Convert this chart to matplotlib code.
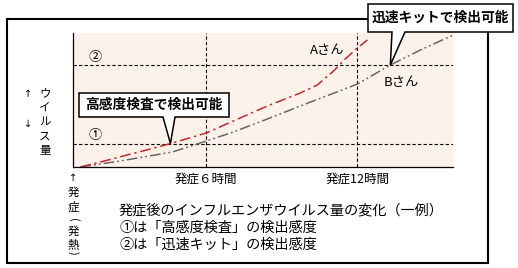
import numpy as np
import matplotlib
matplotlib.use("Agg")
import matplotlib.pyplot as plt
from matplotlib.patches import Polygon, Rectangle

plt.rcParams['font.family'] = ['Noto Sans CJK JP', 'DejaVu Sans']

# hours after onset / virus amount (arbitrary units)
a_hours = [0.99, 1.79, 2.86, 3.77, 4.65, 6.00, 7.07, 8.42, 9.73, 10.41, 11.05, 11.52, 12.00, 12.40]
a_virus = [0.0, 3.7, 9.0, 13.4, 17.9, 25.4, 34.3, 45.5, 55.2, 61.2, 71.6, 80.6, 88.8, 94.8]
b_hours = [0.99, 2.58, 4.65, 6.00, 7.07, 8.42, 9.73, 12.00, 13.31, 14.50, 15.81]
b_virus = [0.0, 4.5, 11.2, 19.4, 26.1, 35.8, 45.5, 61.9, 76.1, 87.3, 98.5]

level1 = 17.5   # 高感度検査
level2 = 76.1   # 迅速キット
hour_marks = [6, 12]
hour_labels = ["発症６時間", "発症12時間"]
caption = ["発症後のインフルエンザウイルス量の変化（一例）",
           "①は「高感度検査」の検出感度",
           "②は「迅速キット」の検出感度"]

W, H = 518, 268
fig = plt.figure(figsize=(W / 100, H / 100), dpi=100)
fig.patch.set_facecolor("white")


def fx(px):
    return px / W


def fy(py):
    return 1 - py / H


# outer frame
fig.add_artist(Rectangle((fx(7), fy(263)), fx(488) - fx(7), fy(19) - fy(263),
                         transform=fig.transFigure, fill=False, ec="black", lw=1.5, zorder=1))

ax = fig.add_axes([fx(73), fy(167), fx(453) - fx(73), fy(33) - fy(167)])
ax.set_facecolor("#fdf2ea")
ax.set_xlim(0.7, 15.8)
ax.set_ylim(0, 100)
ax.set_xticks([])
ax.set_yticks([])
for s in ["top", "right"]:
    ax.spines[s].set_visible(False)
for s in ["left", "bottom"]:
    ax.spines[s].set_linewidth(0.9)

for h in hour_marks:
    ax.axvline(h, color="black", lw=0.8, ls=(0, (3, 2)))
for lv in [level1, level2]:
    ax.axhline(lv, color="black", lw=0.8, ls=(0, (3, 2)))

ax.plot(b_hours, b_virus, color="#666666", lw=1.1, ls=(0, (7, 2, 1.2, 2, 1.2, 2)))
ax.plot(a_hours, a_virus, color="#c0282d", lw=1.1, ls=(0, (7, 2.5, 1.5, 2.5)))

ax.text(1.6, level1 + 1, "①", fontsize=9.5, ha="center", va="bottom")
ax.text(1.6, level2 + 1, "②", fontsize=9.5, ha="center", va="bottom")
ax.text(10.8, 87.3, "Aさん", fontsize=9.5, ha="center", va="center")
ax.text(13.75, 63.4, "Bさん", fontsize=9.5, ha="center", va="center")

xt = ax.get_xaxis_transform()
for h, lab in zip(hour_marks, hour_labels):
    ax.text(h, -0.09, lab, transform=xt, fontsize=9, ha="center", va="center")

# caption
for i, line in enumerate(caption):
    fig.text(fx(119), fy(210 + 17.5 * i), line, fontsize=10.2, ha="left", va="center")

# y label, written vertically
fig.text(fx(45), fy(86), "ウ\nイ\nル\nス\n量", fontsize=8.3, ha="center", va="top",
         linespacing=1.15)
fig.text(fx(28), fy(94), "↑", fontsize=7, ha="center", va="center", family="DejaVu Sans")
fig.text(fx(28), fy(124), "↓", fontsize=7, ha="center", va="center", family="DejaVu Sans")

# onset label
fig.text(fx(73), fy(178), "↑", fontsize=7, ha="center", va="center", family="DejaVu Sans")
fig.text(fx(73), fy(186), "発\n症", fontsize=8.3, ha="center", va="top", linespacing=1.15)
fig.text(fx(73), fy(225), "発\n熱", fontsize=8.3, ha="center", va="top", linespacing=1.0)
fig.text(fx(73), fy(220), "(", fontsize=8, ha="center", va="center", rotation=-90)
fig.text(fx(73), fy(253), ")", fontsize=8, ha="center", va="center", rotation=-90)


def callout(x0, x1, y0, y1, b0, b1, tip, text):
    tx, ty = fig.transFigure.inverted().transform(ax.transData.transform(tip))
    verts = [(fx(x0), fy(y0)), (fx(x1), fy(y0)), (fx(x1), fy(y1)), (fx(b1), fy(y1)),
             (tx, ty), (fx(b0), fy(y1)), (fx(x0), fy(y1))]
    fig.add_artist(Polygon(verts, closed=True, transform=fig.transFigure,
                           fc="white", ec="black", lw=1.1, zorder=5))
    fig.text(fx((x0 + x1) / 2), fy((y0 + y1) / 2), text, fontsize=9.9, fontweight="bold",
             ha="center", va="center", zorder=6)


tip1 = (np.interp(level1, a_virus, a_hours), level1)
tip2 = (np.interp(level2, b_virus, b_hours), level2)
callout(79, 229, 93, 117, 163, 175, tip1, "高感度検査で検出可能")
callout(368, 513, 4, 32, 392, 405, tip2, "迅速キットで検出可能")

fig.savefig("out.png", dpi=100)
